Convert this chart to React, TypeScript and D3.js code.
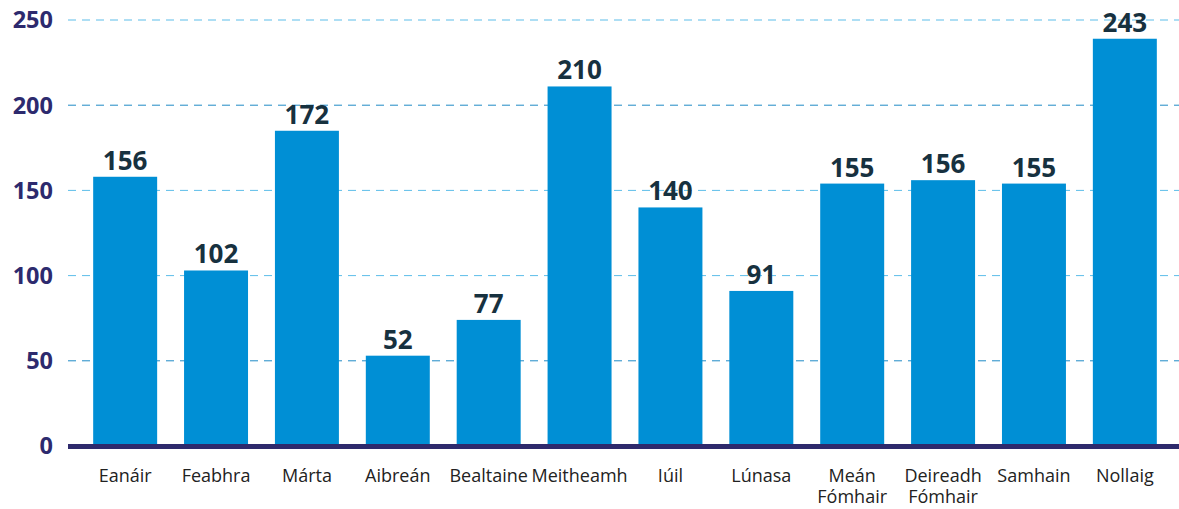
import React from 'react';
import * as d3 from 'd3';

const months = ['Eanáir', 'Feabhra', 'Márta', 'Aibreán', 'Bealtaine', 'Meitheamh', 'Iúil', 'Lúnasa', 'Meán Fómhair', 'Deireadh Fómhair', 'Samhain', 'Nollaig'];
// bar heights as drawn in the picture
const barValues = [158, 103, 185, 53, 74, 211, 140, 91, 154, 156, 154, 239];
// printed value labels
const valueLabels = [156, 102, 172, 52, 77, 210, 140, 91, 155, 156, 155, 243];
const yTicks = [0, 50, 100, 150, 200, 250];
const lightTicks = [100, 150, 250];

const App = () => {
  const width = 1179;
  const height = 509;
  const margin = { left: 68, right: 0, top: 20, bottom: 63 };

  const x = d3.scaleBand<string>()
    .domain(months)
    .range([70, 1180])
    .paddingInner(0.296)
    .paddingOuter(0.255);

  const y = d3.scaleLinear()
    .domain([0, 250])
    .range([446, 20]);

  const font = '"Open Sans", sans-serif';

  return (
    <svg width={width} height={height} style={{ position: 'absolute', left: 0, top: 0 }}>
      {yTicks.filter(t => t > 0).map(t => (
        <line key={`grid-${t}`} x1={margin.left} x2={width} y1={y(t)} y2={y(t)}
          stroke={lightTicks.includes(t) ? '#5cbde9' : '#1f8ac6'} strokeWidth={1} strokeDasharray='8,6' />
      ))}
      {yTicks.map(t => (
        <text key={`yt-${t}`} x={53} y={y(t)} dy='0.36em' textAnchor='end'
          fontFamily={font} fontWeight={700} fontSize={23.5} fill='#2d2a6e'>{t}</text>
      ))}
      {months.map((m, i) => {
        const cx = (x(m) || 0) + x.bandwidth() / 2;
        return (
          <g key={`bar-${i}`}>
            <rect x={x(m)} y={y(barValues[i])} width={x.bandwidth()} height={y(0) - y(barValues[i]) - 2} fill='#008fd5' />
            <text x={cx} y={y(barValues[i]) - 7} textAnchor='middle'
              fontFamily={font} fontWeight={700} fontSize={26} fill='#17313f'>{valueLabels[i]}</text>
            <text x={cx} y={482} textAnchor='middle' fontFamily={font} fontSize={18} fill='#222'>
              {m.split(' ').map((part, j) => (
                <tspan key={j} x={cx} dy={j === 0 ? 0 : 21}>{part}</tspan>
              ))}
            </text>
          </g>
        );
      })}
      <line x1={margin.left} x2={width} y1={446.5} y2={446.5} stroke='#2e2a6c' strokeWidth={5} />
    </svg>
  );
};

export default App;
